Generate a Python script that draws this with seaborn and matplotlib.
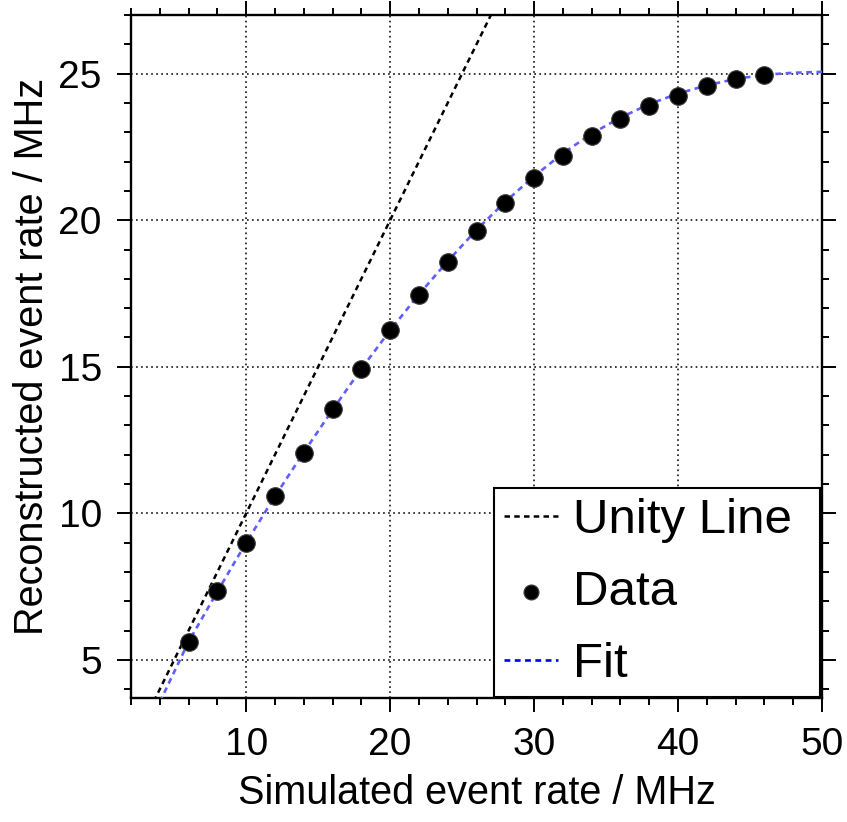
import matplotlib
matplotlib.use("Agg")
import matplotlib.pyplot as plt
from matplotlib.lines import Line2D
from matplotlib.ticker import MultipleLocator
import seaborn as sns
import pandas as pd

# ---- data ----
data_x = [6, 8, 10, 12, 14, 16, 18, 20, 22, 24, 26, 28, 30, 32, 34, 36, 38, 40, 42, 44, 46]
data_y = [5.61, 7.35, 8.98, 10.58, 12.07, 13.57, 14.93, 16.26, 17.45, 18.57, 19.63,
          20.58, 21.43, 22.18, 22.86, 23.44, 23.91, 24.25, 24.59, 24.83, 24.97]

fit_x = [4, 6, 8, 10, 12, 14, 16, 18, 20, 22, 24, 26, 28, 30, 32, 34, 36, 38, 40, 42, 44, 46, 48, 50]
fit_y = [3.56, 5.62, 7.33, 9.0, 10.58, 12.08, 13.53, 14.93, 16.24, 17.47, 18.6, 19.67,
         20.63, 21.5, 22.28, 22.95, 23.5, 23.96, 24.32, 24.6, 24.82, 24.96, 25.03, 25.06]

unity_x = [0, 50]
unity_y = [0, 50]

x_label = "Simulated event rate / MHz"
y_label = "Reconstructed event rate / MHz"
legend_labels = ["Unity Line", "Data", "Fit"]

# ---- styling ----
sns.set_style("white")
plt.rcParams["font.family"] = ["Liberation Sans", "DejaVu Sans"]
plt.rcParams.update({"text.color": "black", "axes.labelcolor": "black",
                     "xtick.color": "black", "ytick.color": "black"})

fig = plt.figure(figsize=(8.47, 8.22), dpi=100)
ax = fig.add_axes([131 / 847, 1 - 698 / 822, (822 - 131) / 847, (698 - 15) / 822])

df_data = pd.DataFrame({"x": data_x, "y": data_y})
df_fit = pd.DataFrame({"x": fit_x, "y": fit_y})
df_unity = pd.DataFrame({"x": unity_x, "y": unity_y})

dash = (2.2, 1.7)
sns.lineplot(data=df_unity, x="x", y="y", ax=ax, color="black", lw=1.8,
             sort=False, label=legend_labels[0], zorder=3)
ax.lines[-1].set_dashes(dash)
sns.lineplot(data=df_fit, x="x", y="y", ax=ax, color="#5f5fff", lw=1.9,
             sort=False, label=legend_labels[2], zorder=4)
ax.lines[-1].set_dashes(dash)
sns.scatterplot(data=df_data, x="x", y="y", ax=ax, color="black", s=160,
                edgecolor="#3a3a3a", linewidth=0.8, label=legend_labels[1], zorder=5)

ax.set_xlim(2, 50)
ax.set_ylim(3.7, 27)
ax.xaxis.set_major_locator(MultipleLocator(10))
ax.xaxis.set_minor_locator(MultipleLocator(2))
ax.yaxis.set_major_locator(MultipleLocator(5))
ax.yaxis.set_minor_locator(MultipleLocator(1))

ax.grid(True, which="major", color="black", linestyle=(0, (1.1, 2.2)), linewidth=1.1)
ax.set_axisbelow(True)

for s in ax.spines.values():
    s.set_visible(True)
    s.set_color("black")
    s.set_linewidth(1.7)

ax.tick_params(which="both", direction="out", top=True, right=True,
               bottom=True, left=True, color="black", width=1.4)
ax.tick_params(which="major", length=10, labelsize=28, pad=11)
ax.tick_params(which="minor", length=5)

ax.set_xlabel(x_label, fontsize=28.5, labelpad=8)
ax.set_ylabel(y_label, fontsize=28.5, labelpad=5.5)

handles, labels = ax.get_legend_handles_labels()
order = [labels.index(l) for l in legend_labels]
leg = ax.legend([handles[i] for i in order], [labels[i] for i in order],
                loc="lower left", bbox_to_anchor=(0.5253, 0.0015, 0.4718, 0.3),
                mode="expand", borderaxespad=0,
                fontsize=35.5, frameon=True, fancybox=False,
                edgecolor="black", framealpha=1,
                handlelength=1.1, handletextpad=0.3, labelspacing=0.55,
                borderpad=0.2, markerscale=0.85)
leg.get_frame().set_linewidth(1.5)
for h in leg.legend_handles:
    if isinstance(h, Line2D):
        h.set_dashes(dash)
leg.legend_handles[2].set_color("blue")

fig.savefig("out.png", dpi=100)
